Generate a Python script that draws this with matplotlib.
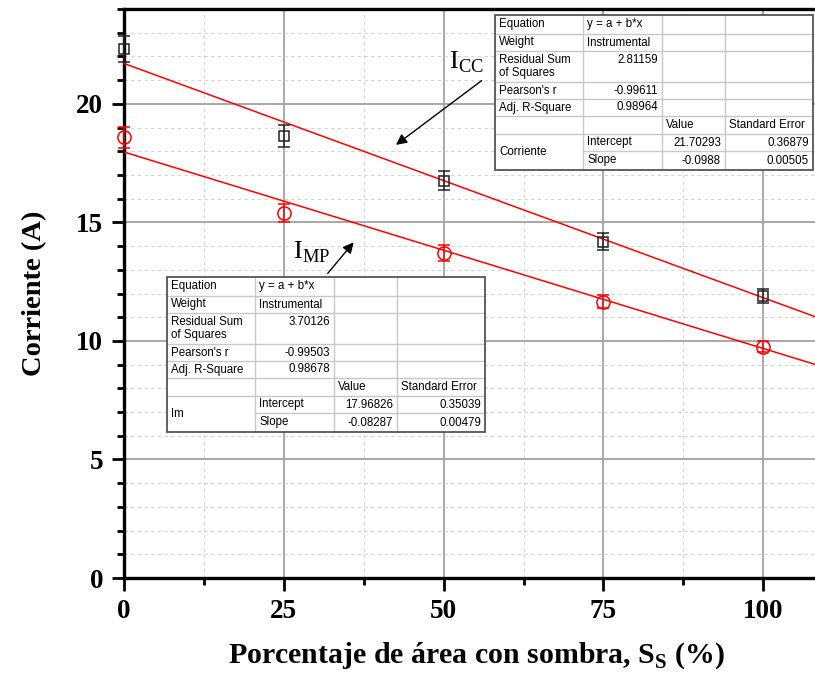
import matplotlib
matplotlib.use('Agg')
import matplotlib.pyplot as plt
import matplotlib.transforms as mtransforms
from matplotlib.patches import Rectangle
from matplotlib.lines import Line2D
from matplotlib.ticker import MultipleLocator
import numpy as np

# data
sombra = [0, 25, 50, 75, 100]
i_cc = [22.32, 18.65, 16.76, 14.19, 11.89]
i_cc_err = [0.55, 0.47, 0.41, 0.35, 0.28]
i_mp = [18.58, 15.38, 13.71, 11.66, 9.76]
i_mp_err = [0.46, 0.38, 0.34, 0.27, 0.24]

# linear fits (from the Origin tables)
cc_fit = [21.70293, -0.0988, 0.36879, 0.00505]
mp_fit = [17.96826, -0.08287, 0.35039, 0.00479]
cc_stats = ['2.81159', '-0.99611', '0.98964']
mp_stats = ['3.70126', '-0.99503', '0.98678']

W, H = 815, 676
plt.rcParams['font.family'] = 'Liberation Serif'
plt.rcParams['mathtext.fontset'] = 'custom'
plt.rcParams['mathtext.rm'] = 'Liberation Serif'
plt.rcParams['mathtext.bf'] = 'Liberation Serif:bold'

fig = plt.figure(figsize=(W / 100, H / 100), dpi=100)
ax = fig.add_axes([124 / W, 1 - 578 / H, 1 - 124 / W, (578 - 9) / H])

xmax = 108.1
ax.set_xlim(0, xmax)
ax.set_ylim(0, 24)

ax.xaxis.set_major_locator(MultipleLocator(25))
ax.xaxis.set_minor_locator(MultipleLocator(12.5))
ax.yaxis.set_major_locator(MultipleLocator(5))
ax.yaxis.set_minor_locator(MultipleLocator(1))
ax.grid(which='major', color='#a8a8a8', lw=1.4, ls='-')
ax.grid(which='minor', color='#d4d4d4', lw=0.8, ls=(0, (3, 3)))
ax.set_axisbelow(True)

for s in ['left', 'bottom', 'top']:
    ax.spines[s].set_linewidth(2.4)
ax.spines['right'].set_visible(False)
ax.tick_params(which='major', direction='out', length=9, width=2, labelsize=19.5, pad=6)
ax.tick_params(which='minor', direction='out', length=5, width=2)
ax.tick_params(top=False, right=False, which='both')
for lab in ax.get_xticklabels() + ax.get_yticklabels():
    lab.set_fontweight('bold')

xx = np.array([0, xmax])
ax.plot(xx, cc_fit[0] + cc_fit[1] * xx, color='red', lw=1.1, zorder=3)
ax.plot(xx, mp_fit[0] + mp_fit[1] * xx, color='red', lw=1.1, zorder=3)

ax.errorbar(sombra, i_cc, yerr=i_cc_err, fmt='s', mfc='none', mec='#222222', ms=7.5,
            mew=1.1, ecolor='#222222', elinewidth=1.1, capsize=4, capthick=1.1,
            zorder=4, clip_on=False)
ax.errorbar(sombra, i_mp, yerr=i_mp_err, fmt='o', mfc='none', mec='red', ms=9.5,
            mew=1.1, ecolor='red', elinewidth=1.1, capsize=4, capthick=1.1,
            zorder=4, clip_on=False)

ax.annotate('', xy=(42.2, 18.2), xytext=(56.3, 21.05),
            arrowprops=dict(arrowstyle='-|>', color='black', lw=1, mutation_scale=16))
ax.annotate('', xy=(36.2, 14.25), xytext=(31.6, 12.76),
            arrowprops=dict(arrowstyle='-|>', color='black', lw=1, mutation_scale=16))
ax.text(50.8, 21.75, r'$\mathrm{I}_{\mathrm{CC}}$', fontsize=19, ha='left', va='center')
ax.text(26.4, 13.75, r'$\mathrm{I}_{\mathrm{MP}}$', fontsize=19, ha='left', va='center')

ax.set_xlabel(r'Porcentaje de área con sombra, $\mathbf{S}_\mathbf{S}$ (%)',
              fontsize=21.5, fontweight='bold', labelpad=14)
ax.xaxis.set_label_coords(0.51, -0.11)
ax.set_ylabel('Corriente (A)', fontsize=20.5, fontweight='bold', labelpad=21)

# Origin style fit tables, in pixel coordinates of the figure
px = mtransforms.Affine2D().scale(1 / W, -1 / H).translate(0, 1) + fig.transFigure
col_x = [0, 88, 167, 230, 318]
row_y = [0, 19, 36, 67, 84, 101, 119, 136, 155]


def fit_table(x0, y0, name, stats, fit):
    fig.add_artist(Rectangle((x0, y0), col_x[-1], row_y[-1], transform=px,
                             facecolor='white', edgecolor='none', zorder=5))
    lc = '#c8c8c8'
    for i in range(1, len(row_y) - 1):
        start = col_x[1] if i == 7 else 0
        fig.add_artist(Line2D([x0 + start, x0 + col_x[-1]], [y0 + row_y[i]] * 2,
                              transform=px, color=lc, lw=1, zorder=6))
    for c in col_x[1:-1]:
        fig.add_artist(Line2D([x0 + c, x0 + c], [y0, y0 + row_y[-1]],
                              transform=px, color=lc, lw=1, zorder=6))
    fig.add_artist(Rectangle((x0, y0), col_x[-1], row_y[-1], transform=px,
                             facecolor='none', edgecolor='#555555', lw=1.3, zorder=7))

    def cell(r, c, txt, ha='left', va='center', r2=None):
        r2 = r + 1 if r2 is None else r2
        if ha == 'left':
            x = x0 + col_x[c] + 4
        else:
            x = x0 + col_x[c + 1] - 4
        y = y0 + (row_y[r] + 3 if va == 'top' else (row_y[r] + row_y[r2]) / 2)
        fig.text(x, y, txt, transform=px, ha=ha, va=va, fontsize=8.3,
                 family='Liberation Sans', zorder=8, linespacing=1.15)

    cell(0, 0, 'Equation')
    cell(0, 1, 'y = a + b*x')
    cell(1, 0, 'Weight')
    cell(1, 1, 'Instrumental')
    cell(2, 0, 'Residual Sum\nof Squares', va='top')
    cell(2, 1, stats[0], ha='right', va='top')
    cell(3, 0, "Pearson's r")
    cell(3, 1, stats[1], ha='right')
    cell(4, 0, 'Adj. R-Square')
    cell(4, 1, stats[2], ha='right')
    cell(5, 2, 'Value')
    cell(5, 3, 'Standard Error')
    cell(6, 0, name, r2=8)
    cell(6, 1, 'Intercept')
    cell(7, 1, 'Slope')
    cell(6, 2, '%.5f' % fit[0], ha='right')
    cell(7, 2, '%g' % fit[1], ha='right')
    cell(6, 3, '%.5f' % fit[2], ha='right')
    cell(7, 3, '%.5f' % fit[3], ha='right')


fit_table(495, 15, 'Corriente', cc_stats, cc_fit)
fit_table(167, 277, 'Im', mp_stats, mp_fit)

fig.savefig('out.png', dpi=100)
